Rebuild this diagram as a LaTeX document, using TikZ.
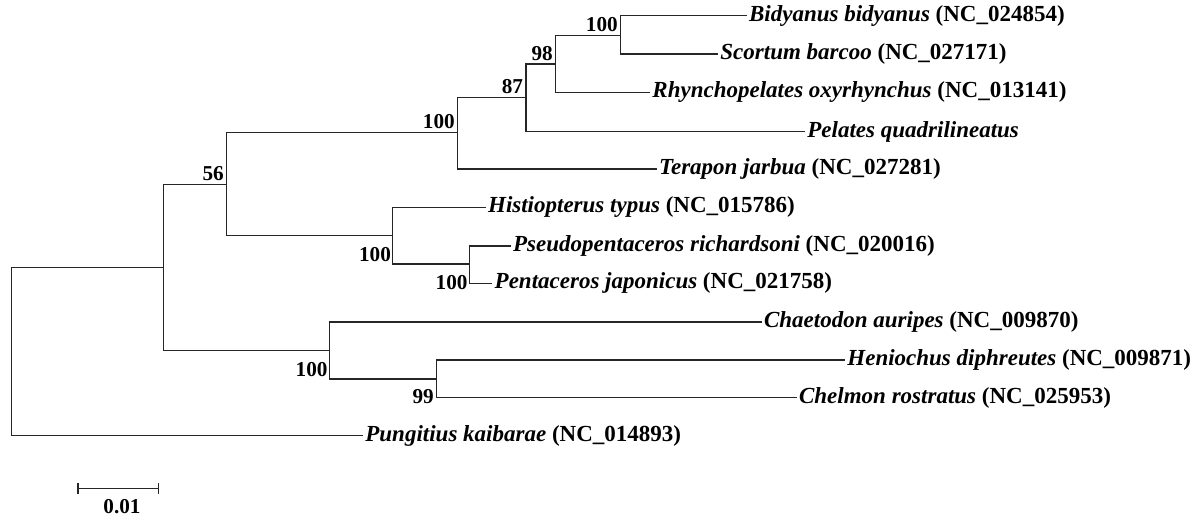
\documentclass[tikz,border=0pt]{standalone}
\usepackage{fontspec}
\setmainfont{Liberation Serif}
\usetikzlibrary{positioning,arrows.meta}

\begin{document}
\begin{tikzpicture}[x=0.5pt, y=-0.5pt,
	branch/.style={draw=black!85, line width=0.6pt},
	leaf/.style={anchor=west, inner sep=1pt, font=\fontsize{11.5}{13}\selectfont\bfseries},
	boot/.style={inner sep=0pt, font=\fontsize{10.6}{12}\selectfont\bfseries}]
	\useasboundingbox (0,0) rectangle (1198,516);
	
	% Internal nodes
	\coordinate (root) at (11.7,351.5);
	\coordinate (nA) at (163.3,267.3);
	\coordinate (n56) at (226.7,184.3);
	\coordinate (nTer) at (457.7,132.7);
	\coordinate (n87) at (526,97.3);
	\coordinate (n98) at (555.7,64);
	\coordinate (nBid) at (620.7,35.7);
	\coordinate (nPen) at (392.7,235.7);
	\coordinate (nPen2) at (469.3,264);
	\coordinate (nCha) at (329.3,350.7);
	\coordinate (n99) at (436.7,379);
	
	% Leaves
	\node[leaf] (bid) at (746.7,15.7) {\textit{Bidyanus bidyanus} (NC\_024854)};
	\node[leaf] (sco) at (718,54) {\textit{Scortum barcoo} (NC\_027171)};
	\node[leaf] (rhy) at (650,92.3) {\textit{Rhynchopelates oxyrhynchus} (NC\_013141)};
	\node[leaf] (pel) at (805,131.7) {\textit{Pelates quadrilineatus}};
	\node[leaf] (ter) at (656.7,169) {\textit{Terapon jarbua} (NC\_027281)};
	\node[leaf] (his) at (485.7,207.3) {\textit{Histiopterus typus} (NC\_015786)};
	\node[leaf] (pse) at (510.7,246) {\textit{Pseudopentaceros richardsoni} (NC\_020016)};
	\node[leaf] (pen) at (492.3,283.3) {\textit{Pentaceros japonicus} (NC\_021758)};
	\node[leaf] (cha) at (761.7,322) {\textit{Chaetodon auripes} (NC\_009870)};
	\node[leaf] (hen) at (845,360) {\textit{Heniochus diphreutes} (NC\_009871)};
	\node[leaf] (che) at (796.7,397.7) {\textit{Chelmon rostratus} (NC\_025953)};
	\node[leaf] (pun) at (363,435.7) {\textit{Pungitius kaibarae} (NC\_014893)};
	
	% Branches
	\draw[branch] (root) |- (nA);
	\draw[branch] (root) |- (pun.west);
	\draw[branch] (nA) |- (n56);
	\draw[branch] (nA) |- (nCha);
	\draw[branch] (n56) |- (nTer);
	\draw[branch] (n56) |- (nPen);
	\draw[branch] (nTer) |- (n87);
	\draw[branch] (nTer) |- (ter.west);
	\draw[branch] (n87) |- (n98);
	\draw[branch] (n87) |- (pel.west);
	\draw[branch] (n98) |- (nBid);
	\draw[branch] (n98) |- (rhy.west);
	\draw[branch] (nBid) |- (bid.west);
	\draw[branch] (nBid) |- (sco.west);
	\draw[branch] (nPen) |- (his.west);
	\draw[branch] (nPen) |- (nPen2);
	\draw[branch] (nPen2) |- (pse.west);
	\draw[branch] (nPen2) |- (pen.west);
	\draw[branch] (nCha) |- (cha.west);
	\draw[branch] (nCha) |- (n99);
	\draw[branch] (n99) |- (hen.west);
	\draw[branch] (n99) |- (che.west);
	
	% Bootstrap values
	\node[boot, above left=1.6pt and 1.3pt of n56] {56};
	\node[boot, above left=1.6pt and 1.3pt of nTer] {100};
	\node[boot, above left=1.6pt and 1.3pt of n87] {87};
	\node[boot, above left=1.6pt and 1.3pt of n98] {98};
	\node[boot, above left=1.6pt and 1.3pt of nBid] {100};
	\node[boot, below left=5.7pt and 0.7pt of nPen] {100};
	\node[boot, below left=5.7pt and 0.7pt of nPen2] {100};
	\node[boot, below left=5.7pt and 0.7pt of nCha] {100};
	\node[boot, below left=5.2pt and 1.3pt of n99] {99};
	
	% Scale bar
	\coordinate (sbl) at (77.3,488.3);
	\coordinate (sbr) at (158.7,488.3);
	\draw[branch, {Bar[width=5.5pt]}-{Bar[width=5.5pt]}] (sbl) -- (sbr);
	\node[boot, anchor=north] (sblabel) at (122,498.7) {0.01};
	
\end{tikzpicture}
\end{document}
